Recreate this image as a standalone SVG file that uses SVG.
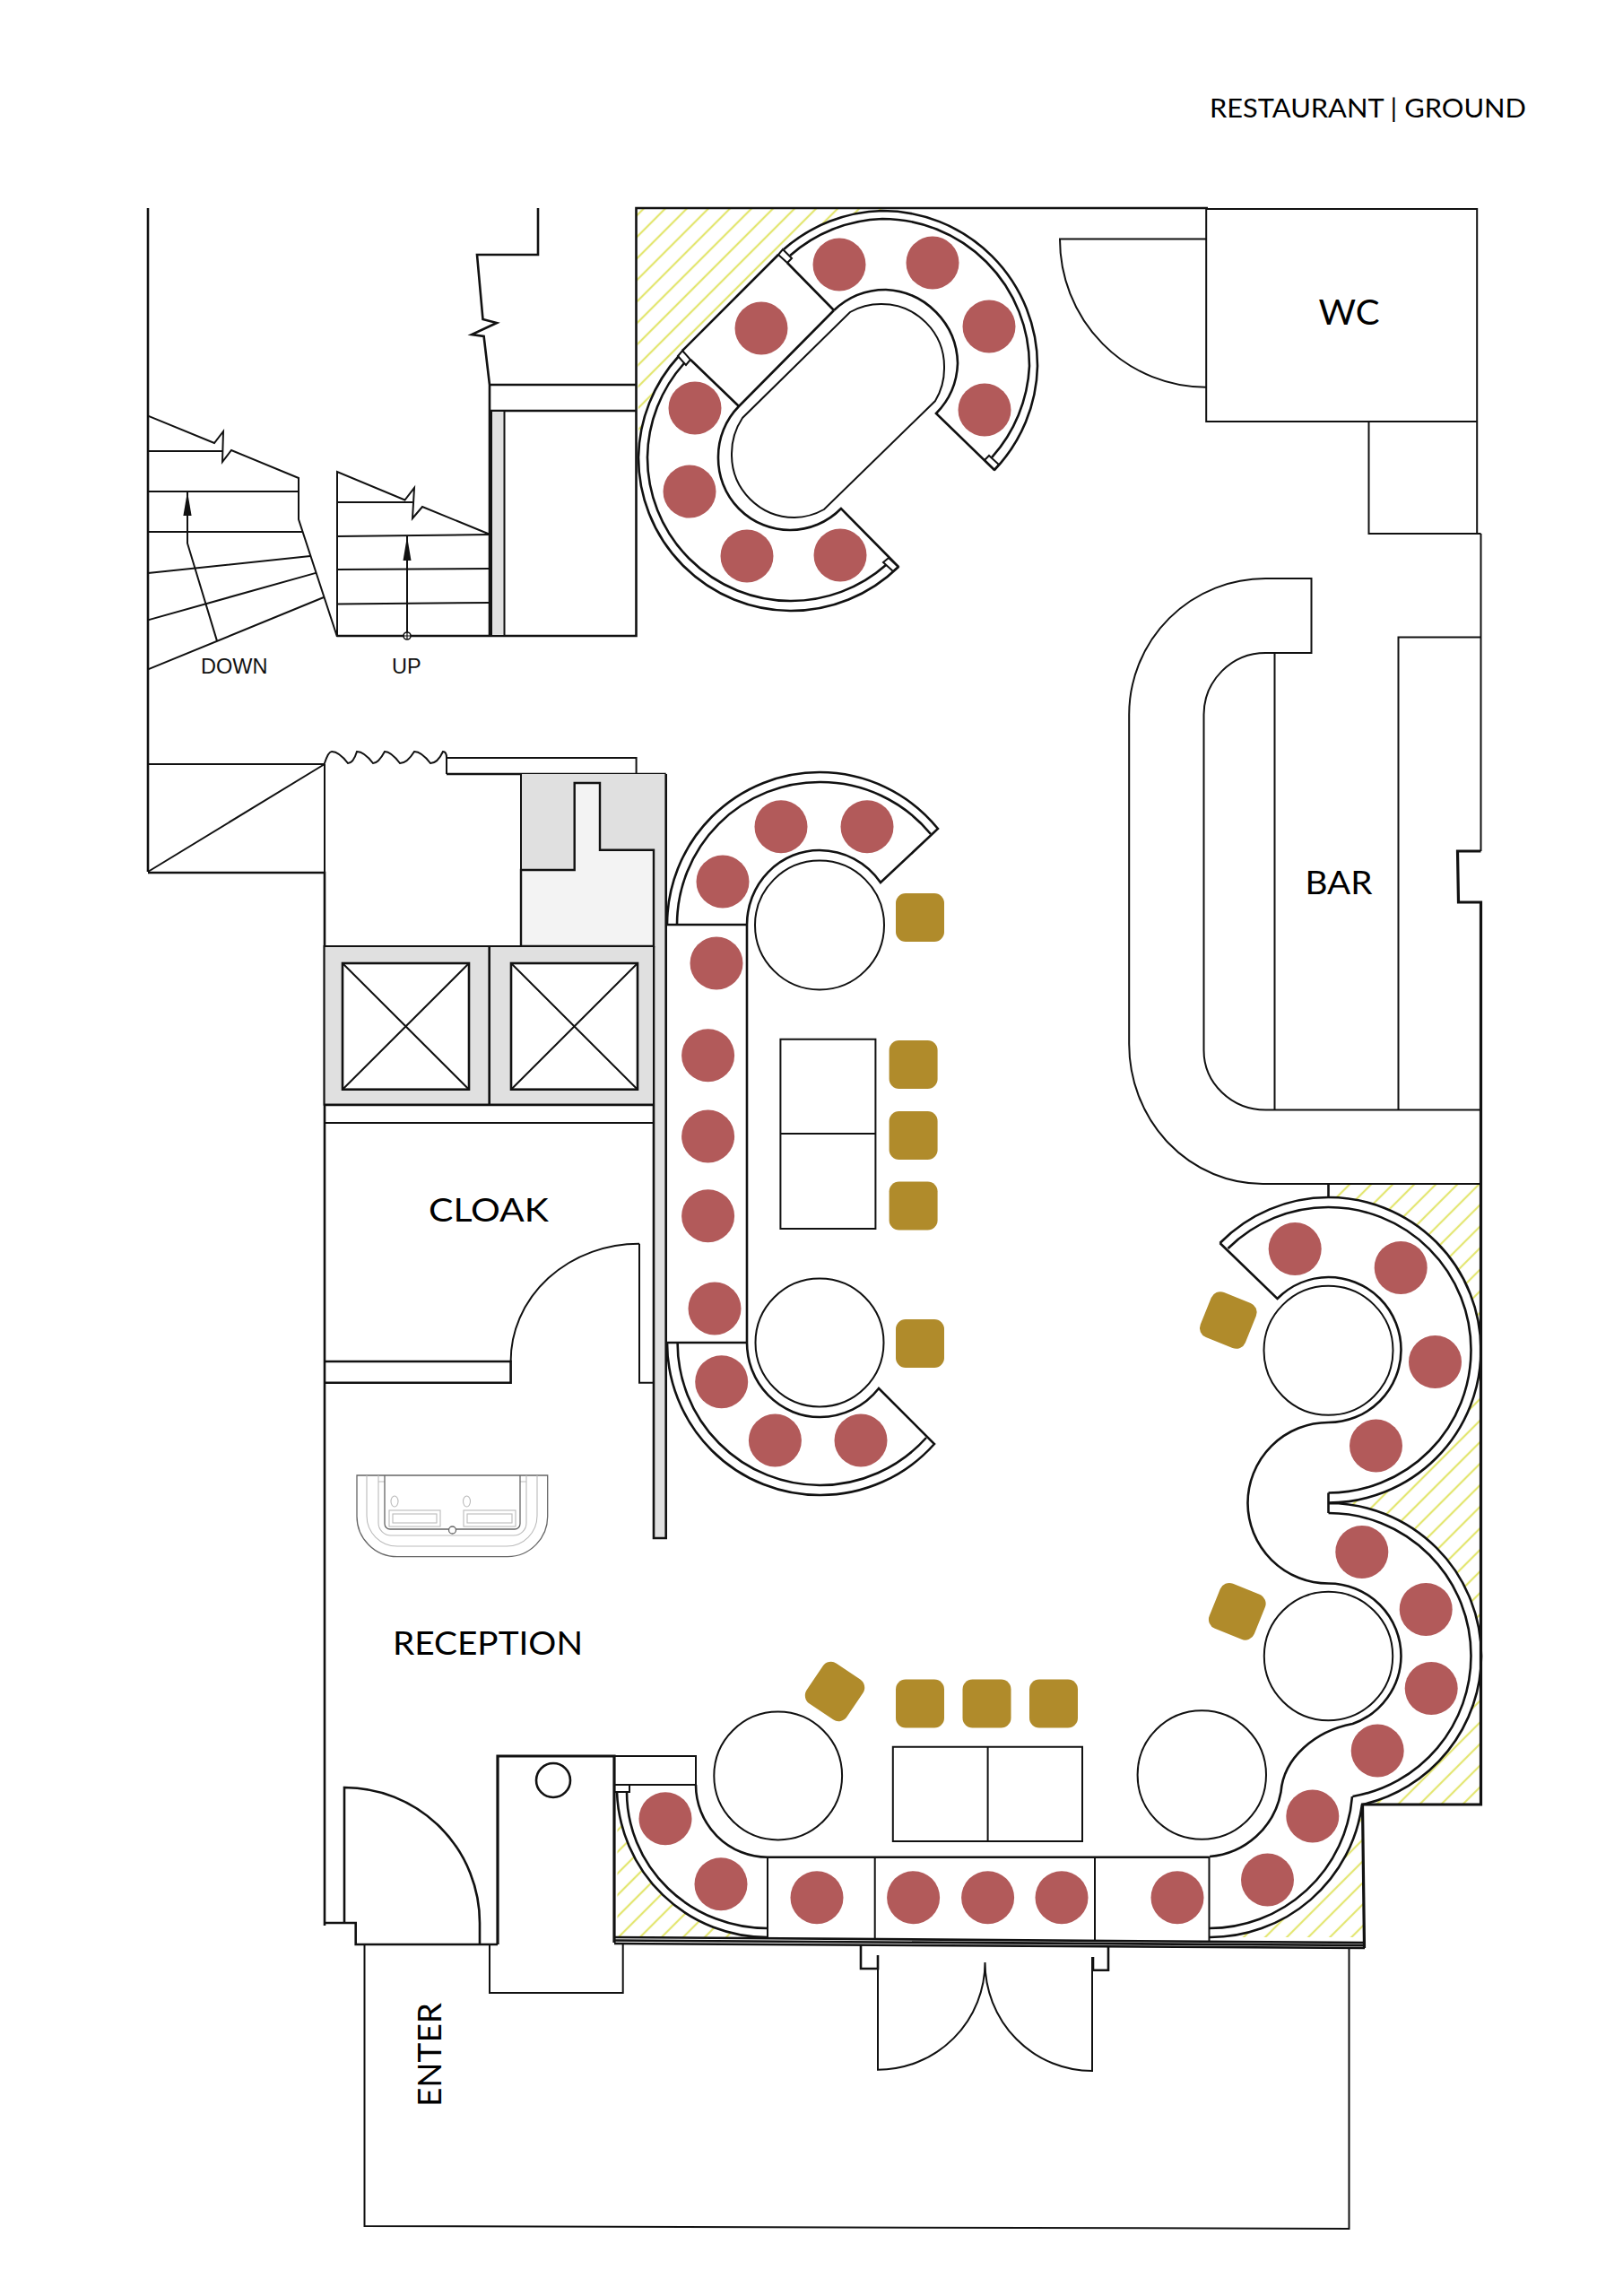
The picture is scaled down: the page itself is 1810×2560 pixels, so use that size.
<svg xmlns="http://www.w3.org/2000/svg" width="1810" height="2560" viewBox="0 0 1810 2560">
<style>
.l{fill:none;stroke:#111;stroke-width:2;stroke-linejoin:miter}
.m{fill:none;stroke:#111;stroke-width:2.6}
.t{fill:none;stroke:#111;stroke-width:3.2}
.d{fill:#e0e0e0;stroke:#111;stroke-width:2}
.f{fill:none;stroke:#bbb;stroke-width:1.1}
.fd{fill:none;stroke:#666;stroke-width:1.3}
.r{fill:#b25a5a}
.g{fill:#b08b2b}
.h{fill:url(#hatch);stroke:none}
.lab{font-family:Lato,"Open Sans","Liberation Sans",sans-serif;fill:#000}
.sm{font-family:"Liberation Sans",Arial,sans-serif;font-size:23.5px;fill:#111}
</style>
<defs>
<pattern id="hatch" patternUnits="userSpaceOnUse" width="17" height="17" patternTransform="rotate(-45) translate(0 2)">
<rect width="17" height="17" fill="#fff"/><line x1="0" y1="6" x2="17" y2="6" stroke="#e3e670" stroke-width="2.2"/>
</pattern>
<rect id="s" width="54" height="54" rx="11"/>
</defs>
<rect width="1810" height="2560" fill="#fff"/>

<g id="hatching" transform="translate(1.5 0)">
<path class="h" d="M708,232H983V235A173,173 0 0 0 873,278L756,397A170,170 0 0 0 711,510Z"/>
<path class="h" d="M1480,1320H1650V2012H1518A170.5,170.5 0 0 0 1650.5,1846.5A170.5,170.5 0 0 0 1480,1676A170,170 0 0 0 1650,1505A170,170 0 0 0 1480,1335Z"/>
<path class="h" d="M1518,2012L1520,2160H1347.5A171,171 0 0 0 1518,2012Z"/>
<path class="h" d="M687,1998V2160H855A168,168 0 0 1 687,1998Z"/>
</g>

<g id="walls">
<path class="m" d="M165,232V972"/>
<path class="m" d="M165,973H362V2147"/>
<path class="l" d="M165,852H362M165,972L362,852M362,852V973"/>
<path class="m" d="M600,232V284H532L538.5,356L554,360L526,373L539.6,375L546,429V709"/>
<path class="m" d="M546,429H709M546,458H709M376,709H709.5V232H1347"/>
<path class="m" d="M362,2144H396.7V2168H555"/>
<g transform="translate(1.5 0)">
<path class="l" d="M1343.7,233H1645.7V595H1650M1343.7,233V470H1645.7M1525,470V595H1645.7"/>
<path class="l" d="M1650,595V949"/>
<path class="t" d="M1650,949H1624L1625,1006H1650V2012H1518L1520,2172"/>
</g>
</g>

<g id="stair-down">
<path class="l" d="M165,463.6L239,494L249,481L248,515L258,502L333,533V579L376,710"/>
<path class="l" d="M165,503H248M165,548H333M165,593H337M165,639L346,620M165,691.4L353,638.6M165,746.4L361,666"/>
<text class="sm" x="224" y="751">DOWN</text>
</g>
<g id="stair-up">
<path class="l" d="M376,709V526L451.5,557.5L462,544L460,578L471,565L546,595.7"/>
<path class="l" d="M376,560H460M376,598L546,596M376,635L546,634M376,673.6L546,672"/>
<rect x="548" y="458" width="14.5" height="251" class="d"/>
<circle cx="454" cy="709" r="4" fill="#fff" stroke="#111" stroke-width="1.6"/>
<path d="M450,709H458M454,705V713" stroke="#111" stroke-width="1.2"/>
<text class="sm" x="437" y="751">UP</text>
</g>
<g id="connectors">
<path class="l" d="M242,714.6L209,605.7V548"/>
<path d="M209,548L213.6,575H204.4Z" fill="#111"/>
<path class="l" d="M454,705V598"/>
<path d="M454,598L458.5,625H449.5Z" fill="#111"/>
</g>

<g id="shaft">
<path class="l" d="M361.6,852Q366,838 370,838Q378,838 388,851Q394,851 398,838Q406,838 416,851Q422,851 429,838Q436,838 446,851Q454,851 462,838Q470,838 480,851Q488,851 494,838Q498,838 498,845V863"/>
<path class="l" d="M498,845H709.6V863"/>
<path class="m" d="M498,863H742.7"/>
<path d="M581,863H742.7V1715H729V1055H581Z" fill="#e0e0e0"/>
<path d="M581,970H640.7V873H669V947.7H729V1055H581Z" fill="#f3f3f3" stroke="#111" stroke-width="2.4"/>
<path class="l" d="M581,863V1055"/>
<path class="m" d="M742.7,863V1715H729V1055"/>
</g>
<g id="lifts">
<rect x="361.6" y="1055" width="367.4" height="176.7" class="d"/>
<path class="m" d="M545.7,1055V1232M361.6,1232H729"/>
<path class="l" d="M361.6,1252H729"/>
<rect x="382" y="1074" width="141" height="140.7" class="m" style="fill:#fff"/>
<path class="l" d="M382,1074L523,1214.7M523,1074L382,1214.7"/>
<rect x="570" y="1074" width="141" height="140.7" class="m" style="fill:#fff"/>
<path class="l" d="M570,1074L711,1214.7M711,1074L570,1214.7"/>
</g>

<g id="cloak">
<path class="l" d="M729,1541.7H713V1386.7"/>
<path class="l" d="M713,1386.7A143,131 0 0 0 569.6,1518"/>
<path class="m" d="M362,1518H569.6V1541.7H362"/>
<text class="lab" x="478" y="1361.7" font-size="37" textLength="134" lengthAdjust="spacingAndGlyphs">CLOAK</text>
</g>

<g id="basin">
<path class="fd" d="M398,1645H610.7V1690A45,45 0 0 1 566,1735.7H443A45,45 0 0 1 398,1690Z"/>
<path class="f" d="M409,1645V1690A34,34 0 0 0 443,1724H565A34,34 0 0 0 599,1690V1645"/>
<path class="f" d="M422,1645V1698A14,14 0 0 0 436,1712H573A14,14 0 0 0 587,1698V1645M422,1652H429M580,1652H587"/>
<path class="fd" d="M429,1645V1699A6,6 0 0 0 435,1705H574A6,6 0 0 0 580,1699V1645"/>
<rect class="f" x="434" y="1684" width="57" height="18"/><rect class="f" x="438" y="1688" width="49" height="10"/>
<rect class="f" x="517" y="1684" width="58" height="18"/><rect class="f" x="521" y="1688" width="50" height="10"/>
<ellipse class="f" cx="440" cy="1674" rx="4" ry="6"/><ellipse class="f" cx="520.5" cy="1674" rx="4" ry="6"/>
<circle class="fd" cx="504.5" cy="1706" r="4" style="fill:#fff"/>
</g>

<g id="reception">
<text class="lab" x="438" y="1845" font-size="37" textLength="212" lengthAdjust="spacingAndGlyphs">RECEPTION</text>
<path class="t" d="M555,2168V1958H685V2166"/>
<circle class="m" cx="617" cy="1985" r="19"/>
<path class="l" d="M546,2168V2222L694.7,2222V2166"/>
<path class="m" d="M384,2144V1993A151,151 0 0 1 535,2144V2168"/>
</g>

<g id="entrance">
<path class="l" d="M406.5,2168V2482L1504.5,2485V2172"/>
<text class="lab" transform="translate(491.7,2349) rotate(-90)" font-size="37" textLength="116" lengthAdjust="spacingAndGlyphs">ENTER</text>
<path class="m" d="M685,2160L1522,2166M685,2163.500L1522,2169M685,2167L1522,2172"/>
<g transform="translate(1 0)">
<path class="m" d="M959,2168V2195H978V2180M1235,2171V2196.7H1218V2182"/>
<path class="l" d="M978,2182V2307.700A119.500,119.700 0 0 0 1097.500,2188A119.500,121 0 0 0 1217,2309V2182"/>
</g>
</g>

<g id="wc" transform="translate(1.5 0)">
<text class="lab" x="1469" y="361.700" font-size="38" textLength="68" lengthAdjust="spacingAndGlyphs">WC</text>
<path class="l" d="M1343.7,266.500H1180.500A163,165 0 0 0 1343.7,431.700"/>
</g>

<g id="bar" transform="translate(1.5 0)">
<path class="l" d="M1650,1320H1406.700A149,156 0 0 1 1257.700,1164V796.800A152,152 0 0 1 1410,645H1461V728H1410A69,69 0 0 0 1341,796.800V1171A69,66.500 0 0 0 1410,1237.500H1649"/>
<path class="l" d="M1420,728V1237.500M1558,1237.500V710.500H1650"/>
<text class="lab" x="1454" y="996.500" font-size="37" textLength="75" lengthAdjust="spacingAndGlyphs">BAR</text>
</g>

<g id="booth-top" transform="translate(1 0)">
<path class="m" d="M1001,632A171,171 0 0 1 880,681A171,171 0 0 1 711,510A171,171 0 0 1 756,397"/>
<path class="m" d="M987,630A160,160 0 0 1 880,670A160,160 0 0 1 721,510A160,160 0 0 1 762,405"/>
<path class="m" d="M760,391L867,284"/>
<path class="m" d="M873,278A173,173 0 0 1 983,235A173,173 0 0 1 1156,408A173,173 0 0 1 1108,524"/>
<path class="m" d="M880,285A164,164 0 0 1 983,244A164,164 0 0 1 1147,408A164,164 0 0 1 1105,510"/>
<path class="l" d="M755,397L760,391L769,401L764,407ZM867,284L872,278L882,288L877,293ZM1097,513L1102,508L1113,518L1108,524ZM984,627L990,622L1001,632L995,637Z"/>
<path class="m" d="M769,401L823,453M877,293L929,346"/>
<path class="m" d="M929,346A84,84 0 0 1 987,323A84,84 0 0 1 1067,405A84,84 0 0 1 1043,461L1108,524"/>
<path class="m" d="M929,346L823,453A80,80 0 0 0 800,510A80,80 0 0 0 880,591A80,80 0 0 0 937,567L1001,632"/>
<path class="l" d="M827,466A72,72 0 0 0 815,507A70,70 0 0 0 885,577A70,70 0 0 0 918,568L1042,447A70,70 0 0 0 1052,410A70,70 0 0 0 982,339A70,70 0 0 0 947,348Z"/>
<g class="r">
<circle cx="935" cy="295" r="29.500"/><circle cx="1039" cy="293" r="29.500"/><circle cx="1102" cy="364" r="29.500"/><circle cx="1097" cy="457" r="29.500"/><circle cx="848" cy="366" r="29.500"/><circle cx="774" cy="455" r="29.500"/><circle cx="768" cy="548" r="29.500"/><circle cx="832" cy="620" r="29.500"/><circle cx="936" cy="619" r="29.500"/>
</g>
</g>

<g id="booth-left" transform="translate(1 0)">
<path class="m" d="M743,1031A170,170 0 0 1 913,861A170,170 0 0 1 1045,924L981,984A83,83 0 0 0 913,948A81,83 0 0 0 832,1031V1497A81,83 0 0 0 913,1580A83,83 0 0 0 979,1548L1041,1610A170,170 0 0 1 913,1667A170,170 0 0 1 743,1497"/>
<path class="m" d="M754,1031A159,159 0 0 1 913,872A159,159 0 0 1 1037,930M754.600,1497A159,159 0 0 0 913,1656A159,159 0 0 0 1032,1603"/>
<path class="m" d="M742,1031H832M742,1497H832"/>
<circle class="l" cx="913" cy="1031.500" r="72"/>
<circle class="l" cx="913" cy="1497" r="71.500"/>
<path class="l" d="M869.400,1158.700H975.400V1370H869.400ZM869.400,1264H975.400"/>
<g class="r">
<circle cx="870" cy="921.700" r="29.500"/><circle cx="966" cy="921.700" r="29.500"/><circle cx="805" cy="983" r="29.500"/><circle cx="798" cy="1074" r="29.500"/><circle cx="788.600" cy="1176.700" r="29.500"/><circle cx="788.600" cy="1267" r="29.500"/><circle cx="788.600" cy="1355.700" r="29.500"/><circle cx="796" cy="1459" r="29.500"/><circle cx="803.700" cy="1540.700" r="29.500"/><circle cx="863.400" cy="1606" r="29.500"/><circle cx="959" cy="1606" r="29.500"/>
</g>
<g class="g">
<use href="#s" x="998" y="996"/><use href="#s" x="990.600" y="1160"/><use href="#s" x="990.600" y="1239"/><use href="#s" x="990.600" y="1317.500"/><use href="#s" x="998" y="1471"/>
</g>
</g>

<g id="booth-right" transform="translate(1.5 0)">
<path class="m" d="M1359,1386A170,170 0 0 1 1480,1335A170,170 0 0 1 1650,1505A170,170 0 0 1 1480,1675.500"/>
<path class="m" d="M1368,1392A159,159 0 0 1 1480,1346A159,159 0 0 1 1639,1505A159,159 0 0 1 1480,1664.500"/>
<path class="m" d="M1480,1664.500V1687M1480,1676A170.500,170.500 0 0 1 1650.500,1846.500A170.500,170.500 0 0 1 1518,2012"/>
<path class="m" d="M1480,1687A159,159 0 0 1 1639,1846.500A159,159 0 0 1 1507,2003"/>
<path class="m" d="M1480,1320V1335"/>
<path class="m" d="M1359,1386L1423,1448A81,81 0 0 1 1480,1424A81,81 0 0 1 1561,1505A81,81 0 0 1 1480,1586A90,90 0 0 0 1390,1676A90,90 0 0 0 1480,1765.500A81,81 0 0 1 1561,1846.500A81,81 0 0 1 1507,1922C1465,1930 1430,1960 1427,1998A88,88 0 0 1 1347.500,2070"/>
<circle class="l" cx="1480" cy="1505.800" r="72"/>
<circle class="l" cx="1480" cy="1846.500" r="71.700"/>
<g class="r">
<circle cx="1442.700" cy="1392.600" r="29.500"/><circle cx="1560.700" cy="1413.400" r="29.500"/><circle cx="1599" cy="1518.600" r="29.500"/><circle cx="1533" cy="1612" r="29.500"/><circle cx="1517.300" cy="1730.400" r="29.500"/><circle cx="1588.700" cy="1794.400" r="29.500"/><circle cx="1594.700" cy="1882.600" r="29.500"/><circle cx="1534.700" cy="1952" r="29.500"/><circle cx="1462.300" cy="2025" r="29.500"/><circle cx="1412" cy="2096" r="29.500"/>
</g>
<g class="g">
<use href="#s" transform="translate(1368.300,1472) rotate(22) translate(-27,-27)"/>
<use href="#s" transform="translate(1378.300,1796.800) rotate(22) translate(-27,-27)"/>
</g>
</g>

<g id="booth-bottom" transform="translate(1 0)">
<path class="l" d="M684,1958H775V1990H684M684,1990H701V1998H684"/>
<path class="m" d="M687,1998A168,168 0 0 0 855,2160M698,1998A157,152 0 0 0 855,2150"/>
<path class="m" d="M775,1990A80,80.700 0 0 0 855,2070.700H1347.500"/>
<path class="l" d="M855,2070.700V2161M974.700,2070.700V2162M1220,2070.700V2164M1347.500,2070V2166"/>
<path class="m" d="M1507,2003A160,160 0 0 1 1347.500,2150M1518,2012A171,171 0 0 1 1347.500,2160"/>
<circle class="l" cx="866.700" cy="1980" r="71.400"/>
<circle class="l" cx="1339.300" cy="1979" r="71.700"/>
<path class="l" d="M994.800,1947.700H1206V2053H994.800ZM1100.600,1947.700V2053"/>
<g class="r">
<circle cx="741" cy="2027.700" r="29.500"/><circle cx="803" cy="2100.700" r="29.500"/><circle cx="910" cy="2115.700" r="29.500"/><circle cx="1017.600" cy="2115.700" r="29.500"/><circle cx="1100.600" cy="2115.700" r="29.500"/><circle cx="1183" cy="2115.700" r="29.500"/><circle cx="1312" cy="2115.700" r="29.500"/>
</g>
<g class="g">
<use href="#s" transform="translate(930,1886) rotate(34) translate(-27,-27)"/>
<use href="#s" x="998" y="1872.500"/><use href="#s" x="1072.500" y="1872.500"/><use href="#s" x="1147" y="1872.500"/>
</g>
</g>

<g id="title">
<text class="lab" x="1349" y="130.700" font-size="29.500" textLength="353" lengthAdjust="spacingAndGlyphs">RESTAURANT | GROUND</text>
</g>
</svg>
